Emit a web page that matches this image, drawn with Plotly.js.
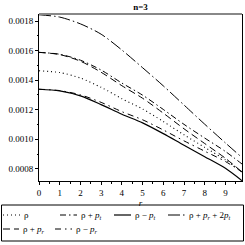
<!DOCTYPE html>
<html><head><meta charset="utf-8">
<script src="https://cdn.plot.ly/plotly-3.0.1.min.js"></script>
<style>html,body{margin:0;padding:0;background:#fff}#chart{width:245px;height:245px}</style>
</head><body><div id="chart"></div>
<script>
// ---- data ----
const r = [0, 1, 2, 3, 4, 5, 6, 7, 8, 9, 9.8];
const rho          = [0.001464, 0.001452, 0.001415, 0.001352, 0.001275, 0.001205, 0.001120, 0.001030, 0.000945, 0.000860, 0.000778];
const rhoPlusPt    = [0.001589, 0.001576, 0.001536, 0.001469, 0.001381, 0.001299, 0.001202, 0.001101, 0.001008, 0.000917, 0.000832];
const rhoMinusPt   = [0.001339, 0.001328, 0.001294, 0.001235, 0.001169, 0.001111, 0.001038, 0.000959, 0.000882, 0.000803, 0.000719];
const rhoPrPlus2Pt = [0.001844, 0.001828, 0.001782, 0.001712, 0.001605, 0.001485, 0.001362, 0.001232, 0.001102, 0.000975, 0.000876];
const rhoPlusPr    = [0.001589, 0.001574, 0.001529, 0.001454, 0.001363, 0.001278, 0.001177, 0.001071, 0.000971, 0.000871, 0.000778];
const rhoMinusPr   = [0.001339, 0.001330, 0.001301, 0.001250, 0.001187, 0.001132, 0.001063, 0.000989, 0.000919, 0.000849, 0.000778];
const seriesNames = ['ρ', 'ρ + <i>p</i><sub><i>t</i></sub>', 'ρ − <i>p</i><sub><i>t</i></sub>',
  'ρ + <i>p</i><sub><i>r</i></sub> + 2<i>p</i><sub><i>t</i></sub>', 'ρ + <i>p</i><sub><i>r</i></sub>', 'ρ − <i>p</i><sub><i>r</i></sub>'];
const yTicks = [0.0008, 0.0010, 0.0012, 0.0014, 0.0016, 0.0018];
const xTicks = [0, 1, 2, 3, 4, 5, 6, 7, 8, 9];
const chartTitle = 'n=3';
const xTitle = '<i>r</i>';

// ---- styles ----
const series = [rho, rhoPlusPt, rhoMinusPt, rhoPrPlus2Pt, rhoPlusPr, rhoMinusPr];
const dashes = ['1px,3px', '6px,3px,1.5px,3px', 'solid', '12px,3px,1.5px,3px', '7px,4px', '6px,4px,1.5px,4px'];
const widths = [1.1, 1, 1.2, 1, 1, 1];
const traces = series.map((s, i) => ({
  x: r, y: s, type: 'scatter', mode: 'lines', name: seriesNames[i], showlegend: false,
  line: {color: '#000', width: widths[i], dash: dashes[i], shape: 'spline', smoothing: 0.8}
}));

// ---- layout geometry ----
const W = 245, H = 245, L = 39, R = 3, T = 14, B = 64;
const pw = W - L - R, ph = H - T - B;
const px = v => (v - L) / pw;          // pixel x -> paper
const py = v => (H - B - v) / ph;      // pixel y -> paper
const font = 'Liberation Serif, Times New Roman, serif';

// manual legend (Maple style): [pixel x of symbol start, symbol end, row y]
const legendPos = [[3, 20, 215], [60, 77, 215], [114, 131, 215], [168, 185, 215], [3, 19, 229], [55, 72, 229]];
const shapes = [
  {type: 'line', xref: 'paper', yref: 'paper', x0: 0, x1: 1, y0: 1, y1: 1, line: {color: '#888', width: 2}},
  {type: 'rect', xref: 'paper', yref: 'paper', x0: px(1.5), x1: px(243.5), y0: py(205), y1: py(241), line: {color: '#000', width: 1}}
];
const annotations = [];
legendPos.forEach((p, i) => {
  shapes.push({type: 'line', xref: 'paper', yref: 'paper', x0: px(p[0]), x1: px(p[1]), y0: py(p[2]), y1: py(p[2]),
    line: {color: '#000', width: widths[i], dash: dashes[i]}});
  annotations.push({xref: 'paper', yref: 'paper', x: px(p[1] + 2), y: py(p[2]), xanchor: 'left', yanchor: 'middle',
    text: seriesNames[i], showarrow: false, font: {family: font, size: 9, color: '#000'}});
});

const layout = {
  width: W, height: H, margin: {l: L, r: R, t: T, b: B, pad: 0},
  paper_bgcolor: '#fff', plot_bgcolor: '#fff', showlegend: false,
  title: {text: '<b>' + chartTitle + '</b>', x: 0.5, xref: 'paper', y: 1 - 7 / H, yanchor: 'middle', font: {family: font, size: 9, color: '#000'}},
  xaxis: {range: [0, 9.8], tickvals: xTicks, ticks: 'outside', ticklen: 3, tickcolor: '#000',
    showline: true, linecolor: '#000', linewidth: 1, showgrid: false, zeroline: false,
    minor: {ticks: 'outside', ticklen: 1.5, dtick: 0.5, tickcolor: '#000', showgrid: false},
    tickfont: {family: font, size: 9, color: '#000'},
    title: {text: xTitle, standoff: 2, font: {family: font, size: 9, color: '#000'}}},
  yaxis: {range: [0.000717, 0.001849], tickvals: yTicks, tickformat: '.4f', ticks: 'outside', ticklen: 3, tickcolor: '#000',
    showline: true, mirror: true, linecolor: '#000', linewidth: 1, showgrid: false, zeroline: false,
    minor: {ticks: 'outside', ticklen: 1.5, dtick: 0.0001, tickcolor: '#000', showgrid: false},
    tickfont: {family: font, size: 9, color: '#000'}},
  shapes: shapes, annotations: annotations
};
Plotly.newPlot('chart', traces, layout, {staticPlot: true, displayModeBar: false});
</script></body></html>
